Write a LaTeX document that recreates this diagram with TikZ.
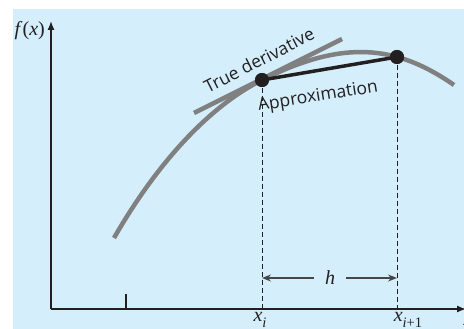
\documentclass[tikz,border=0pt]{standalone}
\usepackage{fontspec}
\setmainfont{Open Sans}
\newfontfamily\tms{Liberation Serif}
\usetikzlibrary{arrows.meta}
\definecolor{bgblue}{RGB}{212,238,252}
\definecolor{curvegray}{RGB}{128,128,128}
\definecolor{inkblack}{RGB}{35,31,32}
\newcommand{\subtxt}[1]{\raisebox{-0.28em}{\fontsize{14.5}{15}\selectfont #1}}
\tikzset{
  axis/.style={draw=inkblack,line width=1.3pt},
  curveline/.style={draw=curvegray,line width=4.5pt},
  chord/.style={draw=inkblack,line width=3.5pt},
  dotnode/.style={circle,fill=inkblack,inner sep=0pt,minimum size=14pt},
  guide/.style={draw=inkblack,line width=0.9pt,dash pattern=on 5pt off 3pt},
  lbl/.style={font=\fontsize{17.5}{20}\selectfont,text=inkblack,inner sep=0pt},
  mathlbl/.style={font=\fontsize{20}{22}\selectfont\tms\itshape,text=inkblack,inner sep=0pt},
  harrow/.style={draw=black!72,line width=1.4pt,-{Stealth[length=9pt,width=7pt]}}
}
\begin{document}
\begin{tikzpicture}[x=1pt,y=-1pt]
\useasboundingbox (0,0) rectangle (464,329);
\fill[bgblue] (13,9) rectangle (464,329);
% axes
\coordinate (origin) at (51,309);
\coordinate (ytop) at (51,21);
\coordinate (xend) at (466,309);
\draw[axis,-{Latex[length=9pt,width=7pt]}] (origin) -- (ytop);
\draw[axis,-{Latex[length=9pt,width=7pt]}] (origin) -- (xend);
\node[mathlbl,anchor=east] (fx) at (45,31) {f\/\upshape(\itshape x\upshape)};
\node[mathlbl] (xlab) at (468,321) {x};
% tick
\coordinate (tk1) at (126,294);
\coordinate (tk2) at (126,309);
\draw[axis,line width=1.1pt] (tk1) -- (tk2);
% curve
\coordinate (c0) at (114,238);
\coordinate (c1) at (262,80);
\coordinate (c2) at (454,85);
\draw[curveline] (c0) .. controls (150,175) and (202,110) .. (c1)
  .. controls (342,40) and (395,44) .. (c2);
% tangent
\coordinate (t1) at (194,113);
\coordinate (t2) at (342,39);
\draw[curveline] (t1) -- (t2);
% points
\node[dotnode] (pi) at (262,80) {};
\node[dotnode] (pj) at (397,57) {};
\draw[chord] (pi.center) -- (pj.center);
\node[dotnode] at (pi.center) {};
\node[dotnode] at (pj.center) {};
% dashed guides
\coordinate (xi) at (262,309);
\coordinate (xj) at (397,309);
\draw[guide] (pi.center) -- (xi);
\draw[guide] (pj.center) -- (xj);
% labels
\node[lbl,rotate=27] (tdlab) at (259,60) {True derivative};
\node[lbl,rotate=9] (aplab) at (318,97) {Approximation};
\node[mathlbl] (xilab) at (260,320) {x\subtxt{i}};
\node[mathlbl] (xjlab) at (408,320) {x\subtxt{i\upshape+1}};
% h arrow
\coordinate (ha) at (262,278);
\coordinate (hb) at (397,278);
\node[mathlbl,fill=bgblue,inner xsep=11pt,inner ysep=2pt] (hn) at (330,278) {h};
\draw[harrow] (hn) -- (ha);
\draw[harrow] (hn) -- (hb);
\end{tikzpicture}
\end{document}
